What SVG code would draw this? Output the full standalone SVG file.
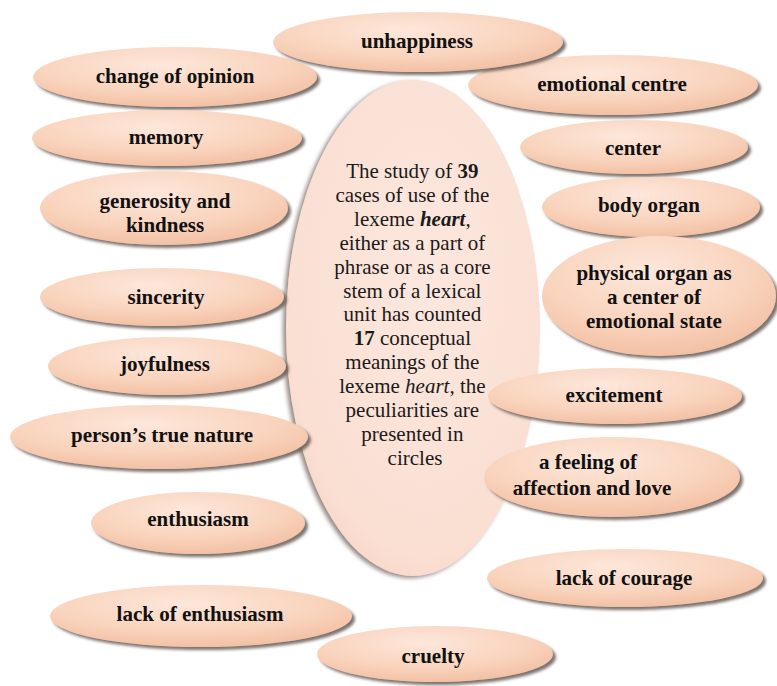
<svg xmlns="http://www.w3.org/2000/svg" width="777" height="686" viewBox="0 0 777 686">
<defs>
<radialGradient id="peach" cx="45%" cy="30%" r="75%">
<stop offset="0" stop-color="#fde7db"/>
<stop offset="0.6" stop-color="#f9d3bc"/>
<stop offset="1" stop-color="#f1bda0"/>
</radialGradient>
<radialGradient id="pale" cx="55%" cy="40%" r="70%">
<stop offset="0" stop-color="#fce7de"/>
<stop offset="0.8" stop-color="#fadfd2"/>
<stop offset="1" stop-color="#f6d2c2"/>
</radialGradient>
<filter id="sh" x="-10%" y="-20%" width="120%" height="150%">
<feGaussianBlur in="SourceAlpha" stdDeviation="1.6"/>
<feOffset dx="3" dy="3" result="b"/>
<feFlood flood-color="#655a55" flood-opacity="0.85"/>
<feComposite in2="b" operator="in" result="s"/>
<feMerge><feMergeNode in="s"/><feMergeNode in="SourceGraphic"/></feMerge>
</filter>
<filter id="shc" x="-10%" y="-10%" width="120%" height="120%">
<feGaussianBlur in="SourceAlpha" stdDeviation="2"/>
<feOffset dx="-3" dy="2" result="b"/>
<feFlood flood-color="#7a6c66" flood-opacity="0.8"/>
<feComposite in2="b" operator="in" result="s"/>
<feMerge><feMergeNode in="s"/><feMergeNode in="SourceGraphic"/></feMerge>
</filter>
</defs>
<style>
.bub{fill:url(#peach);filter:url(#sh);}
.core{fill:url(#pale);filter:url(#shc);}
.lbl{font-family:"Liberation Serif","Times New Roman",serif;font-weight:bold;font-size:21px;fill:#111;text-anchor:middle;}
.ctx{font-family:"Liberation Serif","Times New Roman",serif;font-size:21px;fill:#1a1a1a;text-anchor:middle;}
</style>
<rect width="777" height="686" fill="#ffffff"/>
<g id="connectors"/>
<g id="core">
<ellipse class="core" cx="413" cy="328" rx="127" ry="248"/>
<text class="ctx" x="415">
<tspan x="415" y="178">The study of <tspan font-weight="bold">39</tspan></tspan>
<tspan x="415" y="202">cases of use of the</tspan>
<tspan x="415" y="226">lexeme <tspan font-weight="bold" font-style="italic">heart</tspan>,</tspan>
<tspan x="415" y="250">either as a part of</tspan>
<tspan x="415" y="274">phrase or as a core</tspan>
<tspan x="415" y="298">stem of a lexical</tspan>
<tspan x="415" y="321">unit has counted</tspan>
<tspan x="415" y="345"><tspan font-weight="bold">17</tspan> conceptual</tspan>
<tspan x="415" y="369">meanings of the</tspan>
<tspan x="415" y="393">lexeme <tspan font-style="italic">heart,</tspan> the</tspan>
<tspan x="415" y="417">peculiarities are</tspan>
<tspan x="415" y="441">presented in</tspan>
<tspan x="415" y="465">circles</tspan>
</text>
</g>
<g id="emotional-centre"><ellipse class="bub" cx="613" cy="85" rx="145" ry="30"/><text class="lbl" x="612" y="91">emotional centre</text></g>
<g id="unhappiness"><ellipse class="bub" cx="418" cy="42" rx="145" ry="30"/><text class="lbl" x="417" y="48">unhappiness</text></g>
<g id="change-of-opinion"><ellipse class="bub" cx="175" cy="77" rx="142" ry="30"/><text class="lbl" x="175" y="83">change of opinion</text></g>
<g id="memory"><ellipse class="bub" cx="167" cy="138" rx="135" ry="28"/><text class="lbl" x="166" y="144">memory</text></g>
<g id="generosity"><ellipse class="bub" cx="164" cy="208" rx="124" ry="37"/><text class="lbl" x="165" y="208">generosity and</text><text class="lbl" x="165" y="232">kindness</text></g>
<g id="sincerity"><ellipse class="bub" cx="162" cy="297" rx="122" ry="29"/><text class="lbl" x="166" y="304">sincerity</text></g>
<g id="joyfulness"><ellipse class="bub" cx="167" cy="366" rx="119" ry="29"/><text class="lbl" x="165" y="371">joyfulness</text></g>
<g id="true-nature"><ellipse class="bub" cx="159" cy="437" rx="149" ry="32"/><text class="lbl" x="162" y="442">person’s true nature</text></g>
<g id="enthusiasm"><ellipse class="bub" cx="198" cy="523" rx="107" ry="31"/><text class="lbl" x="198" y="526">enthusiasm</text></g>
<g id="lack-of-enthusiasm"><ellipse class="bub" cx="201" cy="616" rx="151" ry="31"/><text class="lbl" x="200" y="621">lack of enthusiasm</text></g>
<g id="cruelty"><ellipse class="bub" cx="435" cy="654" rx="118" ry="28"/><text class="lbl" x="433" y="663">cruelty</text></g>
<g id="center"><ellipse class="bub" cx="634" cy="147" rx="114" ry="27"/><text class="lbl" x="633" y="155">center</text></g>
<g id="body-organ"><ellipse class="bub" cx="651" cy="207" rx="109" ry="30"/><text class="lbl" x="649" y="212">body organ</text></g>
<g id="physical-organ"><ellipse class="bub" cx="659" cy="296" rx="117" ry="60"/><text class="lbl" x="654" y="280">physical organ as</text><text class="lbl" x="654" y="304">a center of</text><text class="lbl" x="654" y="328">emotional state</text></g>
<g id="excitement"><ellipse class="bub" cx="615" cy="396" rx="127" ry="28"/><text class="lbl" x="614" y="402">excitement</text></g>
<g id="affection"><ellipse class="bub" cx="612" cy="477" rx="128" ry="40"/><text class="lbl" x="588" y="469">a feeling of</text><text class="lbl" x="592" y="495">affection and love</text></g>
<g id="lack-of-courage"><ellipse class="bub" cx="625" cy="578" rx="138" ry="29"/><text class="lbl" x="624" y="585">lack of courage</text></g>
</svg>
